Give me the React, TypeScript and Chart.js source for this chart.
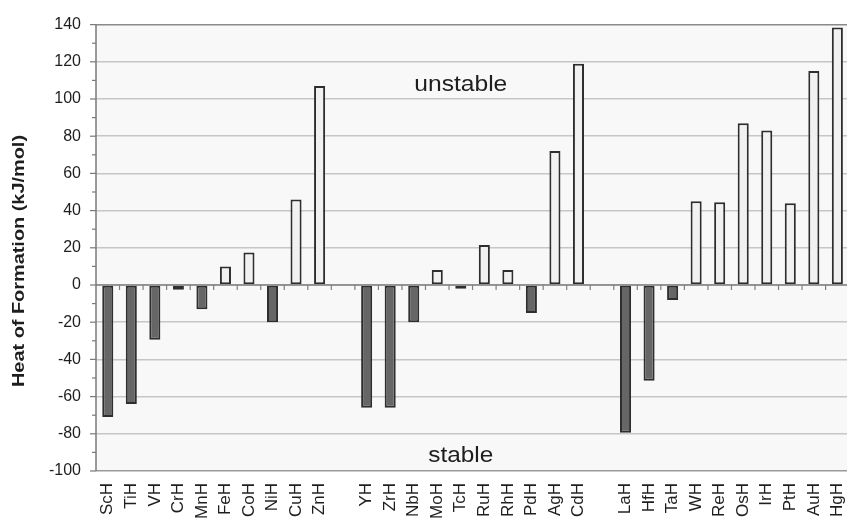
import React, { useEffect, useRef } from "react";
import { Chart, registerables } from "chart.js";

Chart.register(...registerables);

// Hydrides of the 3d, 4d and 5d transition metals; "" marks the spacer between rows
const categories = [
  "ScH", "TiH", "VH", "CrH", "MnH", "FeH", "CoH", "NiH", "CuH", "ZnH",
  "",
  "YH", "ZrH", "NbH", "MoH", "TcH", "RuH", "RhH", "PdH", "AgH", "CdH",
  "",
  "LaH", "HfH", "TaH", "WH", "ReH", "OsH", "IrH", "PtH", "AuH", "HgH",
];

// Heat of formation, kJ/mol
const row3d = [-71, -64, -29.5, -2.5, -13, 10, 17.5, -20, 46, 107];
const row4d = [-66, -66, -20, 8, -2, 21.5, 8, -15, 72, 119];
const row5d = [-79.5, -51.5, -8, 45, 44.5, 87, 83, 44, 115, 138.5];

const yTicks = [-100, -80, -60, -40, -20, 0, 20, 40, 60, 80, 100, 120, 140];

const values: (number | null)[] = [...row3d, null, ...row4d, null, ...row5d];

const FONT = '"Liberation Sans", Arial, sans-serif';

const decorations = {
  id: "decorations",
  beforeDraw(chart: any) {
    const { ctx, chartArea: a } = chart;
    ctx.save();
    ctx.fillStyle = "#f8f8f8";
    ctx.fillRect(a.left, a.top, a.right - a.left, a.bottom - a.top);
    ctx.restore();
  },
  afterDatasetsDraw(chart: any) {
    const { ctx, chartArea: a, scales } = chart;
    const y = scales.y;
    const x = scales.x;
    ctx.save();
    // zero line
    const y0 = y.getPixelForValue(0);
    ctx.strokeStyle = "#808080";
    ctx.lineWidth = 1.5;
    ctx.beginPath();
    ctx.moveTo(a.left, y0);
    ctx.lineTo(a.right, y0);
    ctx.stroke();
    // category boundary ticks below the zero line
    const n = categories.length;
    const step = (a.right - a.left) / n;
    ctx.lineWidth = 1.2;
    for (let k = 1; k < n; k++) {
      const px = a.left + k * step;
      ctx.beginPath();
      ctx.moveTo(px, y0);
      ctx.lineTo(px, y0 + 5);
      ctx.stroke();
    }
    // left axis line and tick marks
    ctx.strokeStyle = "#7a7a7a";
    ctx.lineWidth = 1.5;
    ctx.beginPath();
    ctx.moveTo(a.left, a.top);
    ctx.lineTo(a.left, a.bottom);
    ctx.stroke();
    ctx.lineWidth = 1.2;
    for (let v = -100; v <= 140; v += 10) {
      const py = y.getPixelForValue(v);
      const len = v % 20 === 0 ? 6 : 4;
      ctx.beginPath();
      ctx.moveTo(a.left - len, py);
      ctx.lineTo(a.left, py);
      ctx.stroke();
    }

    // region labels
    ctx.fillStyle = "#1e1e1e";
    ctx.textAlign = "center";
    ctx.textBaseline = "alphabetic";
    const drawWide = (text: string, cx: number, by: number, size: number, width: number) => {
      ctx.save();
      ctx.font = `${size}px ${FONT}`;
      const w = ctx.measureText(text).width;
      ctx.translate(cx, by);
      ctx.scale(width / w, 1);
      ctx.fillText(text, 0, 0);
      ctx.restore();
    };
    const cx = x.getPixelForValue(15);
    drawWide("unstable", cx, y.getPixelForValue(104.3), 22, 93);
    drawWide("stable", cx, y.getPixelForValue(-95.2), 22, 65);

    // y axis title
    ctx.save();
    ctx.font = `bold 16px ${FONT}`;
    const tw = ctx.measureText("Heat of Formation (kJ/mol)").width;
    ctx.translate(19.5, 261);
    ctx.rotate(-Math.PI / 2);
    ctx.scale(252 / tw, 1);
    ctx.textBaseline = "middle";
    ctx.fillText("Heat of Formation (kJ/mol)", 0, 0);
    ctx.restore();

    ctx.restore();
  },
};

export default function App() {
  const canvasRef = useRef<HTMLCanvasElement | null>(null);

  useEffect(() => {
    const canvas = canvasRef.current;
    if (!canvas) return;
    const chart = new Chart(canvas, {
      type: "bar",
      data: {
        labels: categories,
        datasets: [
          {
            data: values,
            backgroundColor: values.map((v) => ((v ?? 0) < 0 ? "#666666" : "#f1f1f1")),
            borderColor: "#2e2e2e",
            borderWidth: 2,
            borderSkipped: false,
            barPercentage: 0.47,
            categoryPercentage: 1,
          },
        ],
      },
      options: {
        responsive: false,
        animation: false,
        devicePixelRatio: 1,
        layout: { padding: { left: 0, top: 22, right: 15.6, bottom: 0 } },
        plugins: {
          legend: { display: false },
          tooltip: { enabled: false },
        },
        scales: {
          x: {
            position: "bottom",
            grid: { display: false, drawTicks: false },
            border: { display: false },
            ticks: {
              autoSkip: false,
              maxRotation: 90,
              minRotation: 90,
              padding: 12,
              color: "#1e1e1e",
              font: { family: FONT, size: 17 },
            },
            afterFit(scale: any) {
              scale.height = 49;
            },
          },
          y: {
            min: -100,
            max: 140,
            afterBuildTicks(scale: any) {
              scale.ticks = yTicks.map((v) => ({ value: v }));
            },
            grid: {
              drawTicks: false,
              lineWidth: 1.5,
              color: (c: any) => {
                const v = c.tick?.value;
                if (v === 140) return "#8a8a8a";
                if (v === -100) return "#9a9a9a";
                return "#c6c6c6";
              },
            },
            border: { display: false },
            ticks: {
              padding: 15,
              color: "#1e1e1e",
              font: { family: FONT, size: 16 },
            },
            afterFit(scale: any) {
              scale.width = 96;
            },
          },
        },
      },
      plugins: [decorations],
    });
    return () => chart.destroy();
  }, []);

  return (
    <div
      style={{
        position: "fixed",
        left: 0,
        top: 0,
        width: 847,
        height: 520,
        overflow: "hidden",
        background: "#ffffff",
      }}
    >
      <canvas ref={canvasRef} width={870} height={520} style={{ display: "block" }} />
    </div>
  );
}
